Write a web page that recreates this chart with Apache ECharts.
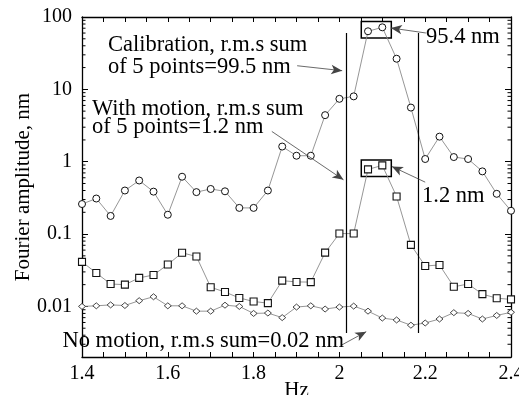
<!DOCTYPE html>
<html>
<head>
<meta charset="utf-8">
<script src="https://cdn.jsdelivr.net/npm/echarts@6/dist/echarts.min.js"></script>
<style>
  html, body { margin: 0; padding: 0; background: #fff; }
  #chart { width: 519px; height: 395px; }
</style>
</head>
<body>
<div id="chart"></div>
<script>
// frequency bins, Hz
var freqs = [1.4, 1.4333, 1.4667, 1.5, 1.5333, 1.5667, 1.6, 1.6333, 1.6667, 1.7, 1.7333,
  1.7667, 1.8, 1.8333, 1.8667, 1.9, 1.9333, 1.9667, 2.0, 2.0333, 2.0667, 2.1, 2.1333,
  2.1667, 2.2, 2.2333, 2.2667, 2.3, 2.3333, 2.3667, 2.4];

// Fourier amplitude, nm
var calibration = [0.26, 0.31, 0.178, 0.40, 0.55, 0.386, 0.185, 0.62, 0.38, 0.42, 0.39,
  0.23, 0.23, 0.40, 1.62, 1.21, 1.21, 4.4, 7.4, 8.0, 63.5, 72, 26.5,
  5.6, 1.09, 2.22, 1.16, 1.09, 0.735, 0.36, 0.21];
var withMotion = [0.0413, 0.029, 0.0204, 0.020, 0.0248, 0.0272, 0.0379, 0.0551, 0.049, 0.0184, 0.0158,
  0.0131, 0.0117, 0.0111, 0.0227, 0.0218, 0.0217, 0.0554, 0.1016, 0.1016, 0.783, 0.889, 0.331,
  0.0708, 0.0362, 0.0374, 0.0187, 0.0204, 0.0148, 0.013, 0.0125];
var noMotion = [0.01, 0.0102, 0.0105, 0.0103, 0.012, 0.0136, 0.0102, 0.0102, 0.0086, 0.0086, 0.0104,
  0.01, 0.008, 0.0081, 0.007, 0.0098, 0.0102, 0.0092, 0.0098, 0.0101, 0.0086, 0.0069, 0.0065,
  0.0055, 0.0059, 0.0067, 0.0082, 0.008, 0.0067, 0.0075, 0.0083];

// window of 5 points
var windowEdges = [2.0167, 2.1833];

// minor ticks on the log axis (k * decade)
var decades = [0.001, 0.01, 0.1, 1, 10];
var minorMult = [2, 3, 4, 5, 6, 7, 8, 9];

var FONT = '"Liberation Serif", "DejaVu Serif", serif';
var NOTE_FONT = "22.5px " + FONT;

function pairs(ys) {
  return freqs.map(function (f, i) { return [f, ys[i]]; });
}

var minorVals = [];
decades.forEach(function (d) {
  minorMult.forEach(function (m) {
    var v = +(d * m).toPrecision(3);
    if (v > 0.002 && v < 100) minorVals.push(v);
  });
});

var chart = echarts.init(document.getElementById("chart"));

var lineCol = "#8a8a8a";
var arrowStyle = { color: "#444", width: 0.8, type: "solid" };

function note(text, x, y) {
  return { type: "text", x: x, y: y, z: 10, style: { text: text, font: NOTE_FONT, fill: "#000", verticalAlign: "middle" } };
}

var option = {
  animation: false,
  backgroundColor: "#fff",
  grid: { left: 82, right: 8, top: 17, bottom: 38, show: false, outerBoundsMode: "none", containLabel: false },
  xAxis: [
    {
      type: "value",
      min: 1.4,
      max: 2.4,
      interval: 0.2,
      name: "Hz",
      nameLocation: "middle",
      nameGap: 23,
      nameMoveOverlap: false,
      nameTextStyle: { fontFamily: FONT, fontSize: 21, color: "#000" },
      axisLine: { lineStyle: { color: "#000", width: 1.3 } },
      axisTick: { inside: true, length: 5, lineStyle: { color: "#000", width: 1 } },
      minorTick: { show: true, splitNumber: 4, length: 5, lineStyle: { color: "#000", width: 1 } },
      axisLabel: { fontFamily: FONT, fontSize: 20, color: "#000", margin: 7 },
      splitLine: { show: false }
    },
    {
      type: "value",
      position: "top",
      min: 1.4,
      max: 2.4,
      interval: 0.2,
      axisLine: { lineStyle: { color: "#000", width: 1.3 } },
      axisTick: { inside: true, length: 5, lineStyle: { color: "#000", width: 1 } },
      minorTick: { show: true, splitNumber: 4, length: 5, lineStyle: { color: "#000", width: 1 } },
      axisLabel: { show: false },
      splitLine: { show: false }
    }
  ],
  yAxis: [
    {
      type: "log",
      logBase: 10,
      min: 0.002,
      max: 100,
      name: "Fourier amplitude, nm",
      nameLocation: "middle",
      nameGap: 48,
      nameMoveOverlap: false,
      nameTextStyle: { fontFamily: FONT, fontSize: 21, color: "#000" },
      axisLine: { lineStyle: { color: "#000", width: 1.3 } },
      axisTick: { inside: true, length: 6, lineStyle: { color: "#000", width: 1 } },
      axisLabel: {
        fontFamily: FONT, fontSize: 20, color: "#000", margin: 10,
        padding: [6, 0, 0, 0],
        formatter: function (v) {
          var l = Math.log10(v);
          if (Math.abs(l - Math.round(l)) > 1e-6) return "";
          return String(+v.toPrecision(3));
        }
      },
      splitLine: { show: false }
    },
    {
      type: "log",
      logBase: 10,
      min: 0.002,
      max: 100,
      position: "right",
      axisLine: { lineStyle: { color: "#000", width: 1.3 } },
      axisTick: { inside: true, length: 6, lineStyle: { color: "#000", width: 1 } },
      axisLabel: { show: false },
      splitLine: { show: false }
    }
  ],
  series: [
    {
      name: "minor ticks",
      type: "custom",
      silent: true,
      data: minorVals,
      renderItem: function (params, api) {
        var v = api.value(0);
        var l = api.coord([1.4, v]);
        var r = api.coord([2.4, v]);
        var st = { stroke: "#000", lineWidth: 1 };
        return {
          type: "group",
          children: [
            { type: "line", shape: { x1: l[0], y1: l[1], x2: l[0] + 3.5, y2: l[1] }, style: st },
            { type: "line", shape: { x1: r[0] - 3.5, y1: r[1], x2: r[0], y2: r[1] }, style: st }
          ]
        };
      },
      encode: { y: 0 }
    },
    {
      name: "Calibration",
      type: "line",
      data: pairs(calibration),
      symbol: "circle",
      symbolSize: 7,
      showAllSymbol: true,
      lineStyle: { color: lineCol, width: 0.9 },
      itemStyle: { color: "#fff", borderColor: "#111", borderWidth: 1 },
      z: 3,
      markLine: {
        silent: true,
        symbol: "none",
        label: { show: false },
        lineStyle: { color: "#000", width: 1.2, type: "solid" },
        data: [
          [{ coord: [windowEdges[0], 60] }, { coord: [windowEdges[0], 0.0043] }],
          [{ coord: [windowEdges[1], 60] }, { coord: [windowEdges[1], 0.0043] }]
        ]
      },
      markArea: {
        silent: true,
        itemStyle: { color: "rgba(0,0,0,0)", borderColor: "#000", borderWidth: 1.5 },
        data: [
          [{ coord: [2.051, 87] }, { coord: [2.121, 51.3] }],
          [{ coord: [2.051, 1.06] }, { coord: [2.121, 0.623] }]
        ]
      }
    },
    {
      name: "With motion",
      type: "line",
      data: pairs(withMotion),
      symbol: "rect",
      symbolSize: 7,
      showAllSymbol: true,
      lineStyle: { color: lineCol, width: 0.9 },
      itemStyle: { color: "#fff", borderColor: "#111", borderWidth: 1.1 },
      z: 3,
      markLine: {
        silent: true,
        symbol: ["none", "arrow"],
        symbolSize: [7, 11],
        label: { show: false },
        lineStyle: arrowStyle,
        data: [
          [{ coord: [1.9015, 21.2] }, { coord: [2.0065, 18.1] }],
          [{ coord: [1.8425, 2.62] }, { coord: [2.0095, 0.562] }],
          [{ coord: [2.2016, 60.1] }, { coord: [2.120, 70.5] }],
          [{ coord: [2.200, 0.522] }, { coord: [2.1224, 0.859] }],
          [{ coord: [2.0058, 0.00294] }, { coord: [2.0625, 0.00448] }]
        ]
      }
    },
    {
      name: "No motion",
      type: "line",
      data: pairs(noMotion),
      symbol: "diamond",
      symbolSize: [7, 6],
      showAllSymbol: true,
      lineStyle: { color: lineCol, width: 0.9 },
      itemStyle: { color: "#fff", borderColor: "#333", borderWidth: 0.9 },
      z: 3
    }
  ],
  graphic: [
    note("Calibration, r.m.s sum", 108, 45.5),
    note("of 5 points=99.5 nm", 108, 67.5),
    note("With motion, r.m.s sum", 92, 109),
    note("of 5 points=1.2 nm", 92, 127.5),
    note("95.4 nm", 426, 37.5),
    note("1.2 nm", 422, 196.5),
    note("No motion, r.m.s sum=0.02 nm", 62.5, 341.5)
  ]
};

chart.setOption(option);
</script>
</body>
</html>
